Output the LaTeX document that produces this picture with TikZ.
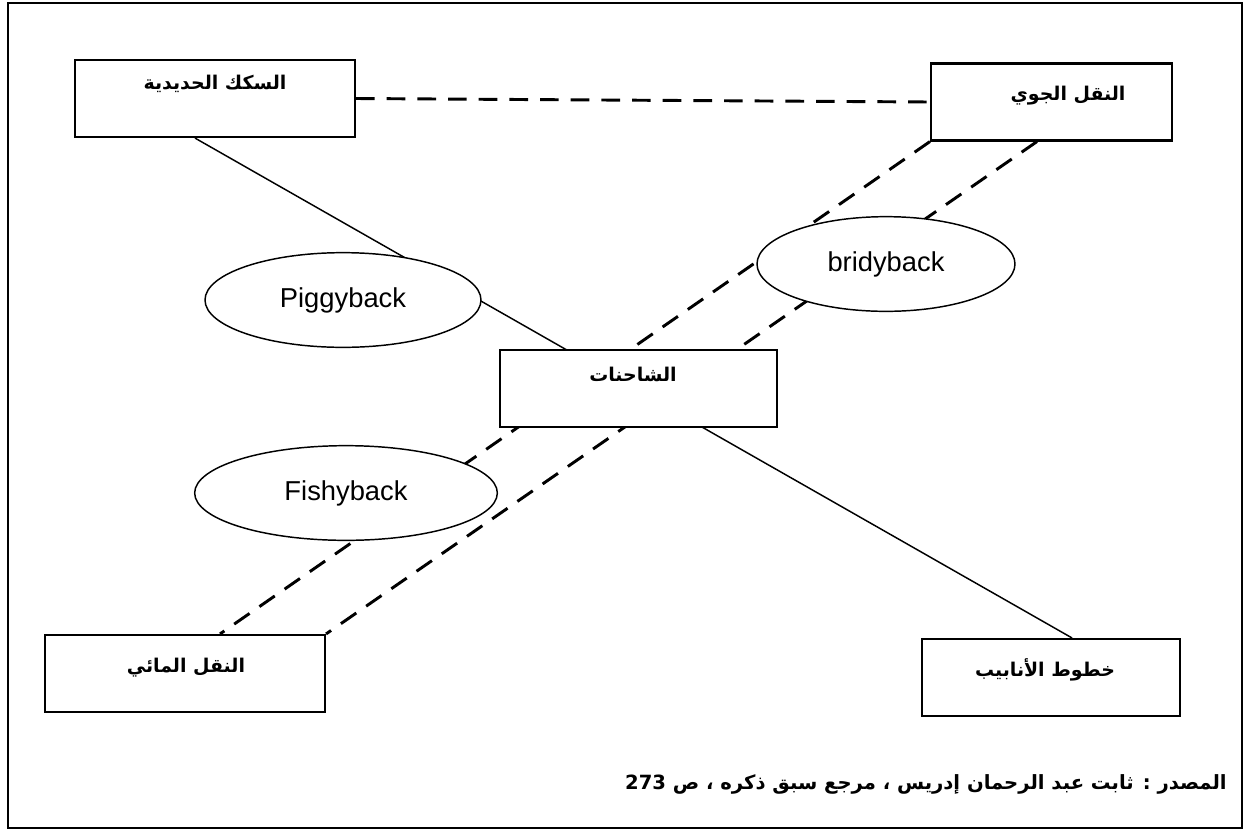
\documentclass[tikz,border=0pt]{standalone}
\usepackage{fontspec}
\setmainfont{Liberation Sans}
\newfontfamily\arabicfont[Script=Arabic]{DejaVu Sans}
\TeXXeTstate=1
\usetikzlibrary{shapes.geometric,backgrounds}
\newcommand{\artxt}[1]{{\arabicfont\bfseries\beginR #1\endR}}

\begin{document}
\begin{tikzpicture}[x=0.75pt,y=0.75pt,yscale=-1,xscale=1,
  mode/.style={draw, fill=white, line width=1.6pt, inner sep=0pt, minimum height=57.75pt},
  modelbl/.style={inner sep=0.75pt, font=\fontsize{14.2}{16}\selectfont},
  combo/.style={ellipse, draw, fill=white, line width=1.1pt, inner sep=0pt, minimum height=71pt, font=\fontsize{20.5}{24}\selectfont},
  link/.style={line width=1.1pt},
  dashlink/.style={line width=2.2pt, dash pattern={on 14pt off 9pt}}]
\useasboundingbox (0,0) rectangle (1247,833);

%Shape: Frame
\draw [line width=1.2pt] (8,3) rectangle (1242,828);

%Shape: Rectangle
\node [mode, minimum width=210pt] (rail) at (215,98.5) {};
%Shape: Rectangle
\node [mode, minimum width=180.75pt] (air) at (1051.5,102) {};
%Shape: Rectangle
\node [mode, minimum width=207.75pt] (truck) at (638.5,388.5) {};
%Shape: Rectangle
\node [mode, minimum width=210pt] (water) at (185,673.5) {};
%Shape: Rectangle
\node [mode, minimum width=193.5pt] (pipe) at (1051,677.5) {};

%Shape: Ellipse
\node [combo, minimum width=207pt] (piggy) at (343,300) {Piggyback};
%Shape: Ellipse
\node [combo, minimum width=193.5pt] (bridy) at (886,264) {bridyback};
%Shape: Ellipse
\node [combo, minimum width=227pt] (fishy) at (346,493) {Fishyback};

% Text Node
\node [modelbl] (railtxt) at (215,84) {\artxt{السكك الحديدية}};
% Text Node
\node [modelbl] (airtxt) at (1068,96) {\artxt{النقل الجوي}};
% Text Node
\node [modelbl] (trucktxt) at (633,374) {\artxt{الشاحنات}};
% Text Node
\node [modelbl] (watertxt) at (186,668) {\artxt{النقل المائي}};
% Text Node
\node [modelbl] (pipetxt) at (1045,670) {\artxt{خطوط الأنابيب}};
% Text Node
\node [modelbl, anchor=base east, font=\fontsize{14.7}{17}\selectfont] (source) at (1228,789) {\artxt{المصدر : ثابت عبد الرحمان إدريس ، مرجع سبق ذكره ، ص \beginL 273\endL}};

\begin{scope}[on background layer]
%Straight Lines
\draw [dashlink] (rail.east) -- (air.west);
%Straight Lines
\draw [link] ([xshift=-15pt]rail.south) -- ([xshift=15.75pt]pipe.north);
%Straight Lines
\draw [dashlink] (air.south west) -- ([xshift=26.25pt]water.north);
%Straight Lines
\draw [dashlink] ([xshift=-10.9pt]air.south) -- (water.north east);
\end{scope}

\end{tikzpicture}
\end{document}
